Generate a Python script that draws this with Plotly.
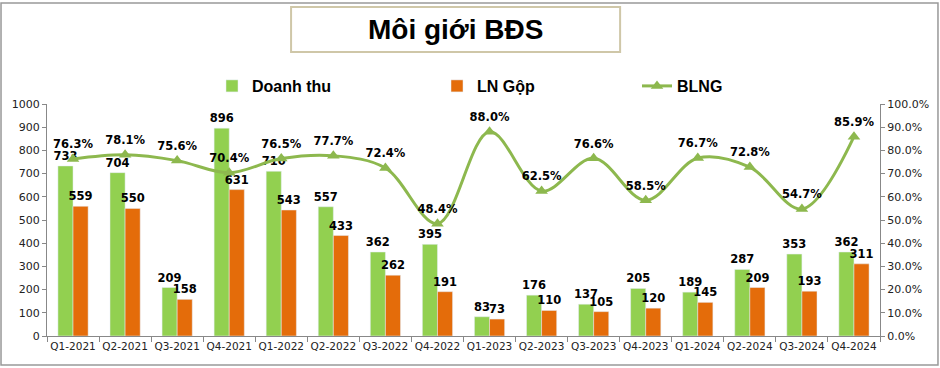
import plotly.graph_objects as go

categories = ["Q1-2021","Q2-2021","Q3-2021","Q4-2021","Q1-2022","Q2-2022","Q3-2022","Q4-2022",
              "Q1-2023","Q2-2023","Q3-2023","Q4-2023","Q1-2024","Q2-2024","Q3-2024","Q4-2024"]
doanh_thu = [733, 704, 209, 896, 710, 557, 362, 395, 83, 176, 137, 205, 189, 287, 353, 362]
ln_gop = [559, 550, 158, 631, 543, 433, 262, 191, 73, 110, 105, 120, 145, 209, 193, 311]
blng = [0.763, 0.781, 0.756, 0.704, 0.765, 0.777, 0.724, 0.484, 0.880, 0.625, 0.766, 0.585, 0.767, 0.728, 0.547, 0.859]

GREEN = "#92D050"
ORANGE = "#E46C0A"
LINE = "#8DB84E"
FONT = "DejaVu Sans"
NARROW = "Liberation Sans Narrow, Liberation Sans"

fig = go.Figure()
fig.add_trace(go.Bar(x=categories, y=doanh_thu, name="<b>Doanh thu</b>", marker_color=GREEN,
                     text=doanh_thu, texttemplate="<b>%{text}</b>", textposition="outside",
                     constraintext="none", legend="legend",
                     textfont=dict(size=11.5, color="black", family=FONT), cliponaxis=False))
fig.add_trace(go.Bar(x=categories, y=ln_gop, name="<b>LN Gộp</b>", marker_color=ORANGE,
                     text=ln_gop, texttemplate="<b>%{text}</b>", textposition="outside",
                     constraintext="none", legend="legend2",
                     textfont=dict(size=11.5, color="black", family=FONT), cliponaxis=False))
fig.add_trace(go.Scatter(x=categories, y=blng, name="<b>BLNG</b>", yaxis="y2", mode="lines+markers+text",
                         line=dict(color=LINE, width=3, shape="spline", smoothing=1),
                         marker=dict(symbol="triangle-up", size=11, color=LINE),
                         text=[f"{v*100:.1f}%" for v in blng], texttemplate="<b>%{text}</b>",
                         textposition="top center", legend="legend3",
                         textfont=dict(size=11.5, color="black", family=FONT), cliponaxis=False))

leg_common = dict(orientation="h", yref="container", y=1 - 86 / 368, yanchor="middle",
                  xref="container", xanchor="left", bgcolor="rgba(0,0,0,0)",
                  font=dict(size=16, family=NARROW, color="black"))

fig.update_layout(
    width=940, height=368,
    margin=dict(l=47, r=60, t=104, b=32, autoexpand=False),
    paper_bgcolor="white", plot_bgcolor="white",
    barmode="group", bargap=0.42, bargroupgap=0,
    font=dict(family=FONT, size=11, color="#222"),
    showlegend=True,
    legend=dict(x=212 / 940, **leg_common),
    legend2=dict(x=437 / 940, **leg_common),
    legend3=dict(x=637 / 940, **leg_common),
    xaxis=dict(range=[-0.5, len(categories) - 0.5], showline=True, linecolor="#888",
               ticks="outside", tickson="boundaries",
               tickcolor="#888", ticklen=5, showgrid=False, tickangle=0,
               tickfont=dict(size=10.5, family=FONT, color="#222")),
    yaxis=dict(range=[0, 1000], dtick=100, showline=True, linecolor="#888", ticks="outside",
               tickcolor="#888", ticklen=4, showgrid=False, zeroline=False,
               tickfont=dict(size=11, family=FONT, color="#222")),
    yaxis2=dict(range=[0, 1], dtick=0.1, tickformat=".1%", overlaying="y", side="right",
                showline=True, linecolor="#888", ticks="outside", tickcolor="#888", ticklen=4,
                showgrid=False, zeroline=False,
                tickfont=dict(size=11, family=FONT, color="#222")),
    shapes=[
        dict(type="rect", xref="paper", yref="paper", x0=-0.0552, x1=1.0696, y0=-0.125, y1=1.435,
             line=dict(color="#999", width=1.5), fillcolor="rgba(0,0,0,0)", layer="below"),
        dict(type="rect", xref="paper", yref="paper", x0=0.293, x1=0.688, y0=1.224, y1=1.418,
             line=dict(color="#CFC7A8", width=2), fillcolor="white"),
    ],
    annotations=[
        dict(text="<b>Môi giới BĐS</b>", xref="paper", yref="paper", x=0.49, y=1.319,
             showarrow=False, font=dict(size=28, family=NARROW, color="black"),
             xanchor="center", yanchor="middle"),
    ],
)

fig.write_html("out.html", post_script="document.body.style.margin='0';",
               config={"displayModeBar": False})
